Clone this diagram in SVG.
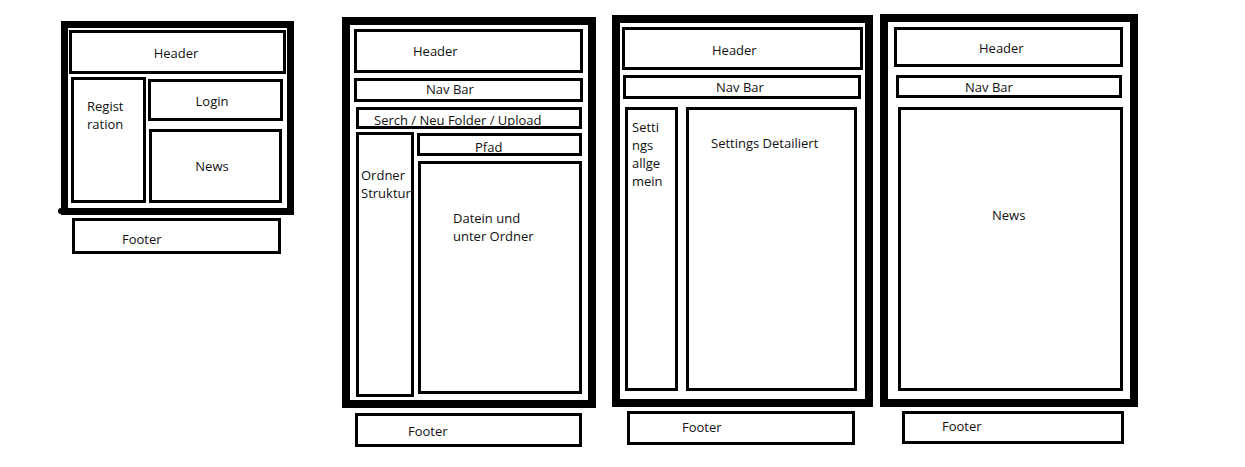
<svg xmlns="http://www.w3.org/2000/svg" width="1245" height="467" viewBox="0 0 1245 467">
<style>
.frame{fill:#fff;stroke:#000;stroke-width:8}
.box{fill:#fff;stroke:#000;stroke-width:3}
text{font-family:"Open Sans","Noto Sans",sans-serif;font-size:13px;fill:#111}
</style>
<rect width="1245" height="467" fill="#fff"/>
<g id="connectors"></g>
<g id="page-start">
<rect class="frame" x="64.5" y="24.5" width="226" height="187" style="stroke-width:7"/>
<circle cx="61" cy="211" r="3" fill="#000"/>
<g id="p1-header"><rect class="box" x="70.5" y="31.5" width="214" height="41"/><text x="176" y="58" text-anchor="middle">Header</text></g>
<g id="p1-registration"><rect class="box" x="72.5" y="78.5" width="72" height="123"/><text x="87" y="111">Regist</text><text x="87" y="129">ration</text></g>
<g id="p1-login"><rect class="box" x="149.5" y="80.5" width="132" height="39"/><text x="212" y="106" text-anchor="middle">Login</text></g>
<g id="p1-news"><rect class="box" x="150.5" y="130.5" width="130" height="71"/><text x="212" y="171" text-anchor="middle">News</text></g>
<g id="p1-footer"><rect class="box" x="73.5" y="219.5" width="206" height="33"/><text x="122" y="244">Footer</text></g>
</g>
<g id="page-files">
<rect class="frame" x="346" y="21" width="246" height="383"/>
<g id="p2-header"><rect class="box" x="355.5" y="30.5" width="226" height="41"/><text x="413" y="56">Header</text></g>
<g id="p2-nav"><rect class="box" x="355.5" y="79.5" width="226" height="21"/><text x="426" y="94">Nav Bar</text></g>
<g id="p2-search"><rect class="box" x="357.5" y="108.5" width="223" height="19"/><text x="374" y="125">Serch / Neu Folder / Upload</text></g>
<g id="p2-ordner"><rect class="box" x="357.5" y="133.5" width="55" height="262"/><text x="361" y="180">Ordner</text><text x="361" y="198">Struktur</text></g>
<g id="p2-pfad"><rect class="box" x="418.5" y="134.5" width="162" height="20"/><text x="475" y="152">Pfad</text></g>
<g id="p2-datein"><rect class="box" x="419.5" y="162.5" width="161" height="230"/><text x="453" y="223">Datein und</text><text x="453" y="241">unter Ordner</text></g>
<g id="p2-footer"><rect class="box" x="356.5" y="414.5" width="224" height="31"/><text x="408" y="436">Footer</text></g>
</g>
<g id="page-settings">
<rect class="frame" x="616" y="19" width="253" height="384"/>
<g id="p3-header"><rect class="box" x="623.5" y="28.5" width="238" height="40"/><text x="712" y="55">Header</text></g>
<g id="p3-nav"><rect class="box" x="624.5" y="76.5" width="235" height="21"/><text x="716" y="92">Nav Bar</text></g>
<g id="p3-allgemein"><rect class="box" x="626.5" y="108.5" width="50" height="281"/><text x="632" y="132">Setti</text><text x="632" y="150">ngs</text><text x="632" y="168">allge</text><text x="632" y="186">mein</text></g>
<g id="p3-detail"><rect class="box" x="687.5" y="108.5" width="168" height="281"/><text x="711" y="148">Settings Detailiert</text></g>
<g id="p3-footer"><rect class="box" x="628.5" y="412.5" width="225" height="31"/><text x="682" y="432">Footer</text></g>
</g>
<g id="page-news">
<rect class="frame" x="884" y="18" width="250" height="385"/>
<g id="p4-header"><rect class="box" x="895.5" y="28.5" width="226" height="37"/><text x="979" y="53">Header</text></g>
<g id="p4-nav"><rect class="box" x="897.5" y="76.5" width="223" height="20"/><text x="965" y="92">Nav Bar</text></g>
<g id="p4-news"><rect class="box" x="899.5" y="108.5" width="222" height="281"/><text x="992" y="220">News</text></g>
<g id="p4-footer"><rect class="box" x="903.5" y="412.5" width="219" height="30"/><text x="942" y="431">Footer</text></g>
</g>
</svg>
